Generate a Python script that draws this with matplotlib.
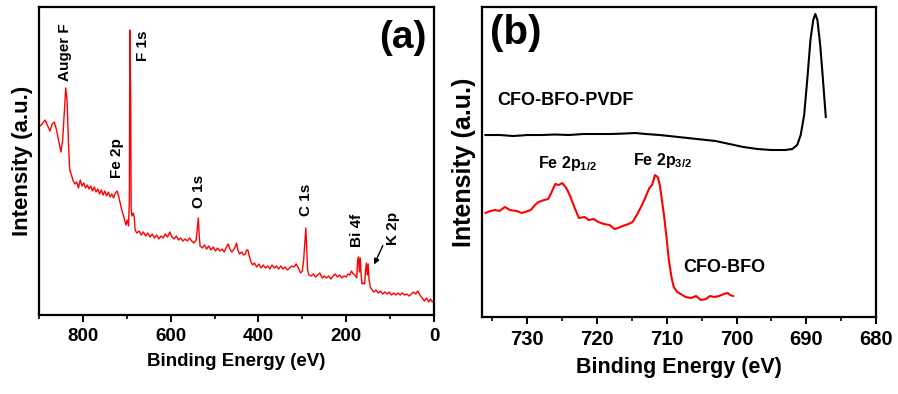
import matplotlib
matplotlib.use('Agg')
import matplotlib.pyplot as plt
from matplotlib.ticker import MultipleLocator

plt.rcParams['font.family'] = ['Liberation Sans', 'DejaVu Sans']
plt.rcParams['font.weight'] = 'bold'
plt.rcParams['axes.labelweight'] = 'bold'
plt.rcParams['mathtext.fontset'] = 'custom'
plt.rcParams['mathtext.rm'] = 'Liberation Sans:bold'
plt.rcParams['mathtext.bf'] = 'Liberation Sans:bold'
plt.rcParams['mathtext.default'] = 'bf'

# (a) survey spectrum: binding energy (eV) and intensity (a.u.)
survey_ev = [900, 893, 886, 880, 875, 870, 865, 860, 855, 850, 846, 842, 839, 836, 833, 830,
             826, 822, 818, 814, 810, 806, 802, 798, 794, 790, 786, 782, 778, 774, 770, 766,
             762, 758, 754, 750, 746, 742, 738, 734, 730, 726, 722, 718, 714, 710, 706, 702,
             699, 696, 694, 693, 691, 690, 688, 685, 683, 681, 677, 672, 667, 662, 657, 652,
             647, 642, 637, 632, 627, 622, 617, 612, 607, 602, 597, 592, 587, 582, 577, 572,
             567, 562, 557, 552, 547, 542, 539, 537, 535, 533, 528, 523, 518, 513, 508, 503,
             498, 493, 488, 483, 478, 473, 469, 465, 461, 457, 453, 450, 447, 443, 438, 434,
             430, 427, 424, 421, 417, 413, 409, 404, 399, 394, 389, 384, 379, 374, 369, 364,
             359, 354, 349, 344, 339, 334, 329, 324, 319, 314, 309, 304, 300, 297, 294, 292,
             290, 288, 285, 280, 275, 270, 265, 260, 255, 250, 245, 240, 235, 230, 225, 220,
             215, 210, 205, 200, 196, 192, 188, 184, 180, 176, 174, 172, 170, 168, 166, 164,
             161, 158, 156, 154, 152, 150, 148, 145, 141, 137, 132, 127, 122, 117, 112, 107,
             102, 97, 92, 87, 82, 77, 72, 67, 62, 57, 52, 47, 42, 37, 32, 27, 22, 17, 12, 8, 4, 0]
survey_int = [188, 191, 195, 189, 184, 191, 193, 185, 174, 163, 175, 205, 227, 215, 175, 145,
              140, 134, 131, 133, 127, 135, 129, 132, 127, 130, 126, 129, 124, 128, 123, 126,
              121, 125, 120, 124, 119, 123, 118, 121, 117, 122, 124, 118, 110, 103, 97, 90,
              95, 89, 115, 285, 215, 105, 99, 102, 98, 85, 82, 84, 80, 83, 79, 82,
              78, 81, 77, 80, 76, 79, 77, 81, 78, 83, 78, 76, 79, 75, 77, 74,
              76, 74, 77, 74, 72, 75, 87, 97, 80, 69, 67, 70, 66, 69, 65, 68,
              64, 67, 64, 66, 63, 68, 71, 66, 63, 65, 68, 72, 65, 61, 63, 60,
              61, 65, 65, 59, 53, 50, 52, 48, 51, 47, 50, 47, 49, 46, 50, 47,
              49, 46, 49, 46, 48, 45, 47, 49, 48, 51, 47, 42, 44, 55, 75, 87,
              65, 45, 40, 39, 41, 38, 40, 42, 37, 39, 37, 39, 36, 39, 41, 38,
              40, 37, 39, 38, 41, 40, 44, 41, 40, 37, 55, 58, 43, 57, 40, 31,
              32, 31, 45, 52, 40, 51, 35, 28, 25, 23, 25, 22, 24, 21, 23, 21,
              23, 20, 22, 20, 22, 20, 22, 20, 21, 19, 21, 23, 21, 24, 20, 17, 14, 17, 13, 16, 13, 15]

survey_labels = ['Auger F', 'F 1s', 'Fe 2p', 'O 1s', 'C 1s', 'Bi 4f', 'K 2p']
survey_label_ev = [841, 663, 722, 535, 292, 176, 94]
survey_label_int = [263, 269, 157, 124, 115, 85, 87]

# (b) Fe 2p region
pvdf_ev = [736.0, 734, 732, 730, 728, 726, 724, 722, 720, 718, 716, 714.5, 713, 711, 709, 707,
           705, 703, 701, 699, 697, 695, 693, 692, 691.3, 690.8, 690.3, 689.8, 689.4, 689.0,
           688.7, 688.4, 688.0, 687.6, 687.2]
pvdf_int = [182, 182, 181, 182, 182, 182.5, 182, 183, 183, 183, 183.5, 184, 183, 182, 180.5, 179,
            177.5, 176, 173, 170, 168, 167, 167, 168, 172, 182, 202, 242, 277, 297,
            303, 297, 272, 237, 200]

cfo_ev = [736.0, 735.3, 734.6, 734.0, 733.2, 732.5, 731.5, 730.8, 730.3, 729.5, 728.9, 728.4,
          727.6, 727.0, 726.5, 726.0, 725.5, 725.0, 724.4, 723.8, 723.2, 722.6, 721.8, 721.2,
          720.5, 719.8, 719.0, 718.2, 717.5, 717.0, 716.3, 715.5, 714.9, 714.3, 713.7, 713.1,
          712.5, 712.1, 711.7, 711.3, 711.0, 710.7, 710.4, 710.0, 709.7, 709.3, 709.0, 708.5,
          708.0, 707.3, 706.5, 705.8, 705.1, 704.4, 703.8, 703.2, 702.5, 701.8, 701.3, 700.9, 700.5]
cfo_int = [104, 106, 107, 106, 110, 107, 106, 104, 105, 107, 112, 115,
           117, 118, 125, 133, 132, 134, 129, 120, 109, 99, 100, 97,
           98, 95, 93, 92, 88, 89, 91, 93, 95, 102, 110, 119,
           129, 132, 142, 140, 132, 117, 102, 77, 57, 39, 30, 25,
           23, 20, 19, 21, 17, 18, 21, 20, 21, 23, 24, 22, 21]

fig = plt.figure(figsize=(8.98, 3.94), dpi=100)
ax1 = fig.add_axes([0.0434, 0.2005, 0.4399, 0.7817])
ax2 = fig.add_axes([0.5367, 0.1954, 0.4388, 0.7868])

# panel (a)
ax1.plot(survey_ev, survey_int, color='red', lw=1.0)
ax1.set_xlim(900, 0)
ax1.set_ylim(0, 308)
ax1.xaxis.set_major_locator(MultipleLocator(200))
ax1.xaxis.set_minor_locator(MultipleLocator(100))
for lab, x, y in zip(survey_labels, survey_label_ev, survey_label_int):
    ax1.text(x, y, lab, rotation=90, ha='center', va='center', fontsize=11)
ax1.annotate('', xy=(139, 48), xytext=(114, 72),
             arrowprops=dict(arrowstyle='-|>', color='black', lw=1.0, mutation_scale=8))
ax1.text(71, 277, '(a)', ha='center', va='center', fontsize=28)
ax1.set_xlabel('Binding Energy (eV)', fontsize=13.5, labelpad=6)
ax1.set_ylabel('Intensity (a.u.)', fontsize=16, labelpad=4)

# panel (b)
ax2.plot(pvdf_ev, pvdf_int, color='black', lw=1.5)
ax2.plot(cfo_ev, cfo_int, color='red', lw=1.5)
ax2.set_xlim(736.5, 680)
ax2.set_ylim(0, 310)
ax2.xaxis.set_major_locator(MultipleLocator(10))
ax2.xaxis.set_minor_locator(MultipleLocator(5))
ax2.text(731.7, 284, '(b)', ha='center', va='center', fontsize=29)
ax2.text(734.3, 217, 'CFO-BFO-PVDF', ha='left', va='center', fontsize=13)
ax2.text(728.4, 154, 'Fe 2p$_{1/2}$', ha='left', va='center', fontsize=11.5)
ax2.text(714.9, 157, 'Fe 2p$_{3/2}$', ha='left', va='center', fontsize=11.5)
ax2.text(707.7, 50, 'CFO-BFO', ha='left', va='center', fontsize=13)
ax2.set_xlabel('Binding Energy (eV)', fontsize=15.5, labelpad=6)
ax2.set_ylabel('Intensity (a.u.)', fontsize=18, labelpad=4)

for ax, fs in [(ax1, 13.5), (ax2, 14.5)]:
    ax.set_yticks([])
    for s in ax.spines.values():
        s.set_linewidth(1.6)
    ax.tick_params(axis='x', which='major', direction='out', length=5, width=1.4,
                   labelsize=fs, pad=4, top=False)
    ax.tick_params(axis='x', which='minor', direction='out', length=3, width=1.2, top=False)

fig.savefig('out.png', dpi=100)
